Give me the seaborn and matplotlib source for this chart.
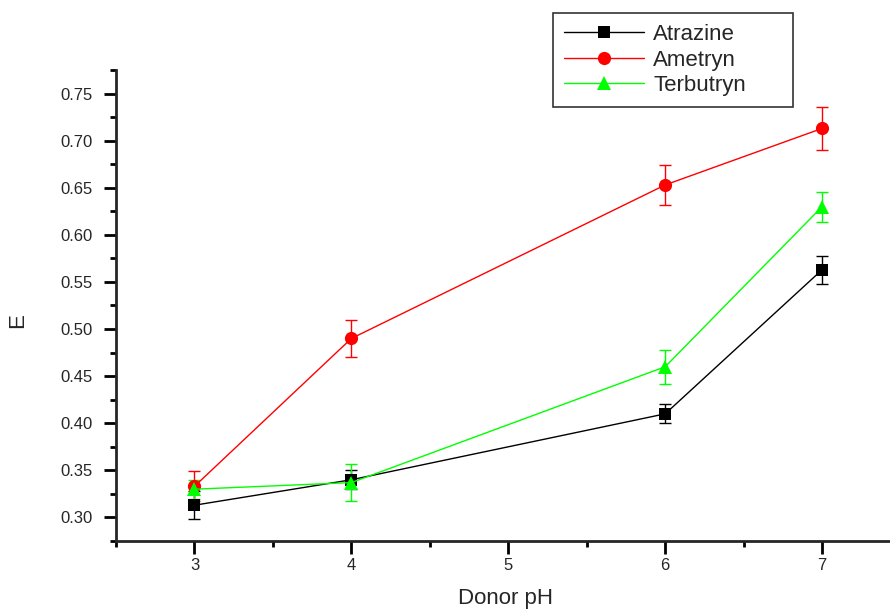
import numpy as np
import pandas as pd
import matplotlib
matplotlib.use("Agg")
import matplotlib.pyplot as plt
from matplotlib.ticker import MultipleLocator, FormatStrFormatter
from matplotlib.lines import Line2D
import seaborn as sns

# Extraction efficiency vs donor pH for three triazine herbicides
donor_ph = [3, 4, 6, 7]
atrazine = [0.313, 0.340, 0.410, 0.563]
atrazine_err = [0.015, 0.010, 0.010, 0.015]
ametryn = [0.333, 0.490, 0.653, 0.713]
ametryn_err = [0.016, 0.020, 0.021, 0.023]
terbutryn = [0.330, 0.337, 0.460, 0.630]
terbutryn_err = [0.010, 0.020, 0.018, 0.016]

series_names = ["Atrazine", "Ametryn", "Terbutryn"]
colors = ["#000000", "#FF0000", "#00FF00"]
markers = ["s", "o", "^"]
marker_sizes = [8.5, 9.5, 10.5]

sns.set_style("ticks")
plt.rcParams["font.family"] = ["Liberation Sans", "DejaVu Sans"]

fig = plt.figure(figsize=(8.9, 6.09), dpi=100)
W, H = 890, 609
left, right, top, bottom = 116, 900.6, 70, 541
ax = fig.add_axes([left / W, 1 - bottom / H, (right - left) / W, (bottom - top) / H])

values = [atrazine, ametryn, terbutryn]
errors = [atrazine_err, ametryn_err, terbutryn_err]
frames = []
for name, vals in zip(series_names, values):
    frames.append(pd.DataFrame({"pH": donor_ph, "E": vals, "Compound": name}))
df = pd.concat(frames, ignore_index=True)

sns.lineplot(data=df, x="pH", y="E", hue="Compound", style="Compound",
             palette=dict(zip(series_names, colors)),
             markers=dict(zip(series_names, markers)),
             dashes=False, linewidth=1.0, markeredgewidth=0,
             ax=ax, zorder=3, legend=False)
for line, ms in zip(ax.lines[:3], marker_sizes):
    line.set_markersize(ms)

for name, vals, errs, c in zip(series_names, values, errors, colors):
    ax.errorbar(donor_ph, vals, yerr=errs, fmt="none", ecolor=c,
                elinewidth=1.0, capsize=4.3, capthick=1.0, zorder=2)

ax.set_xlim(2.5, 7.5)
ax.set_ylim(0.275, 0.775)
ax.xaxis.set_major_locator(MultipleLocator(1))
ax.xaxis.set_minor_locator(MultipleLocator(0.5))
ax.yaxis.set_major_locator(MultipleLocator(0.05))
ax.yaxis.set_minor_locator(MultipleLocator(0.025))
ax.yaxis.set_major_formatter(FormatStrFormatter("%.2f"))

for s in ["top", "right"]:
    ax.spines[s].set_visible(False)
for s in ["left", "bottom"]:
    ax.spines[s].set_linewidth(2)
ax.tick_params(axis="both", which="major", length=9, width=2,
               labelsize=12, color="black")
ax.tick_params(axis="x", which="major", pad=3.5)
ax.tick_params(axis="y", which="major", pad=8)
ax.tick_params(axis="both", which="minor", length=4.5, width=2, color="black")

ax.set_xlabel("Donor pH", fontsize=16)
ax.set_ylabel("E", fontsize=16)
ax.xaxis.set_label_coords(0.497, -0.100)
ax.yaxis.set_label_coords(-0.112, 0.469)

# Legend
handles = [Line2D([], [], color=c, marker=m, markersize=ms, markeredgewidth=0,
                  linewidth=1.0)
           for c, m, ms in zip(colors, markers, marker_sizes)]
leg = fig.legend(handles, series_names, loc="upper left",
                 bbox_to_anchor=(553 / W, 1 - 103 / H, 240 / W, 90 / H),
                 mode="expand", frameon=True,
                 fancybox=False, edgecolor="black", fontsize=16,
                 handlelength=3.6, handletextpad=0.4, labelspacing=0.2,
                 borderpad=0.5, borderaxespad=0)
leg.get_frame().set_linewidth(1.2)

fig.savefig("out.png", dpi=100)
